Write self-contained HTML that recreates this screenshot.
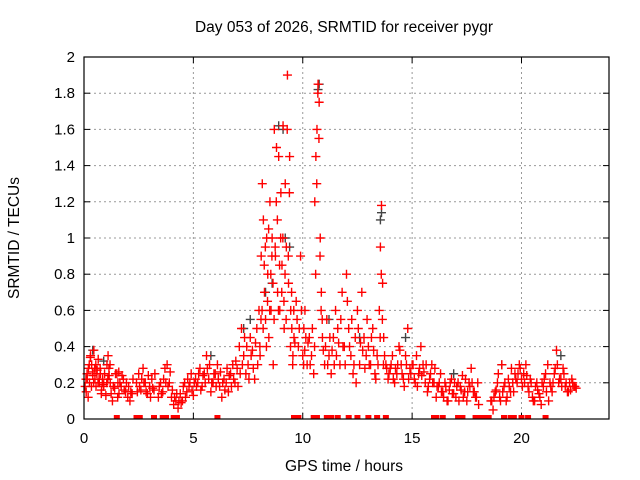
<!DOCTYPE html>
<html><head><meta charset="utf-8"><style>
body{margin:0;background:#fff}
svg{display:block;font-family:"Liberation Sans",sans-serif}
</style></head><body>
<svg id="chart" width="640" height="480">
<text x="344" y="32" text-anchor="middle" font-size="15.5">Day 053 of 2026, SRMTID for receiver pygr</text>
<text x="344" y="471" text-anchor="middle" font-size="15.5">GPS time / hours</text>
<text transform="translate(19,238) rotate(-90)" text-anchor="middle" font-size="15.5">SRMTID / TECUs</text>
<g id="grid"></g><g id="ticks"></g><g id="marks"></g>
<rect x="84" y="57" width="525" height="362" fill="none" stroke="#000" stroke-width="1.2"/>
</svg>
<script>
const xTicks=[0,5,10,15,20];
const yTicks=[0,0.2,0.4,0.6,0.8,1,1.2,1.4,1.6,1.8,2];
const yTickLabels=["0","0.2","0.4","0.6","0.8","1","1.2","1.4","1.6","1.8","2"];
const times=[0.05,0.1,0.15,0.2,0.25,0.3,0.35,0.4,0.45,0.5,0.55,0.6,0.65,0.7,0.75,0.8,0.85,0.9,1.0,1.05,1.1,1.15,1.2,1.3,1.4,1.5,1.55,1.6,1.7,1.8,1.9,2.0,2.1,2.2,2.4,2.5,2.6,2.7,2.8,2.9,3.0,3.1,3.2,3.4,3.5,3.6,3.7,3.8,3.9,4.0,4.1,4.2,4.3,4.4,4.5,4.6,4.7,4.8,4.9,5.0,5.1,5.2,5.3,5.4,5.5,5.6,5.7,5.8,5.9,6.0,6.1,6.2,6.3,6.4,6.5,6.6,6.7,6.8,6.9,7.0,7.1,7.2,7.3,7.4,7.5,7.6,7.7,7.8,7.9,8.0,8.05,8.1,8.15,8.2,8.25,8.3,8.35,8.4,8.45,8.5,8.55,8.6,8.65,8.7,8.75,8.8,8.85,8.9,8.95,9.0,9.05,9.1,9.15,9.2,9.25,9.3,9.35,9.4,9.45,9.5,9.55,9.6,9.7,9.8,9.9,10.0,10.05,10.1,10.2,10.3,10.4,10.5,10.55,10.6,10.65,10.7,10.75,10.8,10.85,10.9,11.0,11.1,11.2,11.3,11.4,11.5,11.6,11.7,11.8,11.9,12.0,12.1,12.2,12.3,12.4,12.5,12.6,12.7,12.8,12.9,13.0,13.1,13.2,13.3,13.4,13.5,13.55,13.6,13.65,13.7,13.8,13.9,14.0,14.1,14.2,14.3,14.4,14.5,14.6,14.7,14.8,14.9,15.0,15.1,15.2,15.3,15.4,15.5,15.6,15.7,15.8,15.9,16.0,16.1,16.2,16.3,16.4,16.5,16.6,16.7,16.8,16.9,17.0,17.1,17.2,17.3,17.4,17.5,17.6,17.7,17.8,17.9,18.0,18.6,18.7,18.8,18.9,19.0,19.1,19.2,19.3,19.4,19.5,19.6,19.7,19.8,19.9,20.0,20.1,20.2,20.3,20.4,20.5,20.6,20.7,20.8,20.9,21.0,21.1,21.2,21.3,21.4,21.5,21.6,21.7,21.8,21.9,22.0,22.1,22.2,22.3,22.4,22.5];
const values1=[.18,.15,.22,.28,.2,.35,.3,.24,.38,.22,.18,.27,.33,.2,.25,.16,.22,.19,.13,.3,.35,.24,.2,.1,.17,.25,.2,.14,.18,.22,.15,.12,.1,.14,.2,.25,.16,.28,.2,.14,.18,.22,.16,.12,.2,.15,.28,.3,.2,.12,.08,.1,.06,.14,.1,.2,.15,.18,.25,.13,.22,.2,.28,.18,.25,.35,.22,.15,.2,.25,.3,.18,.12,.22,.2,.15,.25,.3,.2,.28,.4,.5,.35,.25,.3,.45,.38,.22,.5,.6,.35,.9,1.3,1.1,.7,.55,1.0,.8,.45,1.2,.6,1.0,.3,1.6,.9,1.5,.7,1.45,.6,1.25,.85,1.62,.5,1.3,.95,1.9,.75,1.45,.6,.5,.35,.45,.65,.4,.9,.35,.5,.6,.3,.45,.35,.25,1.2,1.45,1.6,1.85,1.75,1.0,.7,.45,.3,.55,.35,.25,.45,.6,.5,.3,.7,.4,.8,.5,.35,.25,.45,.6,.3,.7,.45,.35,.4,.3,.5,.25,.35,.6,.95,1.18,.75,.45,.3,.22,.28,.35,.2,.25,.4,.3,.22,.35,.5,.28,.3,.22,.35,.25,.4,.3,.2,.15,.22,.3,.2,.12,.18,.25,.15,.2,.1,.16,.22,.14,.12,.2,.18,.24,.15,.1,.2,.28,.15,.12,.2,.1,.05,.15,.2,.12,.3,.18,.1,.22,.15,.2,.25,.2,.3,.22,.25,.3,.18,.22,.12,.1,.2,.14,.08,.18,.25,.3,.2,.15,.25,.38,.2,.22,.28,.18,.15,.2,.22,.18,.17];
const values2=[.22,.25,.12,.3,.34,.18,.26,.2,.28,.3,.25,.2,.22,.28,.14,.2,.18,.25,.2,.22,.28,.3,.14,.18,.25,.12,.26,.2,.24,.16,.2,.18,.15,.22,.15,.18,.22,.2,.15,.24,.12,.17,.25,.18,.14,.22,.2,.18,.26,.16,.12,.14,.1,.09,.18,.12,.22,.2,.16,.2,.18,.25,.16,.24,.2,.28,.3,.2,.25,.18,.22,.26,.2,.16,.28,.24,.18,.22,.32,.18,.25,.3,.45,.4,.22,.35,.28,.42,.3,.4,.55,.6,.5,.85,.95,.4,.65,1.05,.6,.8,.9,.75,.55,.95,1.2,1.1,.6,.85,1.0,.7,1.0,.65,.8,.55,1.6,.9,1.25,.4,.7,.3,.6,.42,.55,.5,.6,.3,.38,.45,.42,.3,.5,.4,.8,1.3,1.8,1.55,.9,.6,.55,.38,.4,.3,.45,.38,.3,.35,.42,.55,.4,.3,.65,.4,.55,.3,.2,.5,.42,.38,.28,.55,.3,.45,.38,.22,.3,.45,.8,.55,.3,.35,.28,.25,.3,.22,.28,.3,.38,.25,.18,.3,.22,.25,.3,.2,.18,.28,.24,.26,.3,.18,.25,.2,.28,.18,.2,.15,.12,.18,.1,.2,.14,.2,.18,.1,.16,.12,.22,.15,.18,.2,.15,.12,.08,.1,.12,.16,.25,.1,.15,.2,.12,.18,.28,.15,.22,.25,.28,.18,.2,.24,.15,.2,.1,.18,.16,.12,.2,.22,.15,.1,.18,.2,.28,.3,.22,.18,.25,.2,.15,.16,.2,.18];
const grayTimes=[0.4,0.9,5.8,7.3,7.6,8.3,8.6,8.9,9.1,9.2,9.4,10.7,10.75,11.2,12.6,13.55,13.6,14.7,16.9,19.1,21.8];
const grayValues=[.38,.32,.35,.5,.55,.7,.75,1.62,1.6,1.0,.95,1.82,1.85,.55,.45,1.1,1.14,.45,.25,.3,.35];
const zeroTimes=[1.5,2.4,2.55,3.2,3.6,3.75,4.1,4.25,6.1,9.6,9.8,10.5,10.65,11.1,11.3,11.6,12.1,12.5,13.0,13.4,13.8,16.0,16.1,16.4,17.1,17.3,17.9,18.0,18.15,18.3,18.5,19.2,19.5,19.65,20.0,20.3,21.1];
const X0=84,X1=609,Y0=419,Y1=57,XMAX=24,YMAX=2;
const xs=t=>X0+(X1-X0)*t/XMAX, ys=v=>Y0-(Y0-Y1)*v/YMAX;
const NS="http://www.w3.org/2000/svg";
const grid=document.getElementById('grid'),ticks=document.getElementById('ticks'),marks=document.getElementById('marks');
function mk(tag,at,parent){const e=document.createElementNS(NS,tag);for(const k in at)e.setAttribute(k,at[k]);parent.appendChild(e);return e;}
xTicks.forEach(t=>{const x=xs(t);
 if(t>0){const g=mk('line',{x1:x,x2:x,y1:Y1,y2:Y0,stroke:'#999','stroke-dasharray':'2,3'},grid);
 
 }
 mk('line',{x1:x,x2:x,y1:Y0,y2:Y0-6,stroke:'#000'},ticks);mk('line',{x1:x,x2:x,y1:Y1,y2:Y1+6,stroke:'#000'},ticks);
 const l=mk('text',{x:x,y:Y0+24,'text-anchor':'middle','font-size':15},ticks);l.textContent=t;
 
 });
yTicks.forEach((v,i)=>{const y=ys(v);
 if(v>0&&v<2){const g=mk('line',{x1:X0,x2:X1,y1:y,y2:y,stroke:'#999','stroke-dasharray':'2,3'},grid);
 
 }
 mk('line',{x1:X0,x2:X0+6,y1:y,y2:y,stroke:'#000'},ticks);mk('line',{x1:X1,x2:X1-6,y1:y,y2:y,stroke:'#000'},ticks);
 const l=mk('text',{x:X0-9,y:y+5,'text-anchor':'end','font-size':15},ticks);l.textContent=yTickLabels[i];
 
 });
function plus(t,v,col,name){const x=xs(t),y=ys(v);
 const p=mk('path',{d:`M${x-4.5},${y}H${x+4.5}M${x},${y-4.5}V${y+4.5}`,stroke:col,'stroke-width':1.4,fill:'none'},marks);
 
 }
grayTimes.forEach((t,i)=>plus(t,grayValues[i],'#444','gray-point'));
times.forEach((t,i)=>{plus(t,values1[i],'#f00','srmtid-point');plus(t+0.04,values2[i],'#f00','srmtid-point');});
zeroTimes.forEach(t=>{const r=mk('rect',{x:xs(t)-3,y:Y0-4,width:6,height:4,fill:'#f00'},marks);
 
 });
</script>
</body></html>
